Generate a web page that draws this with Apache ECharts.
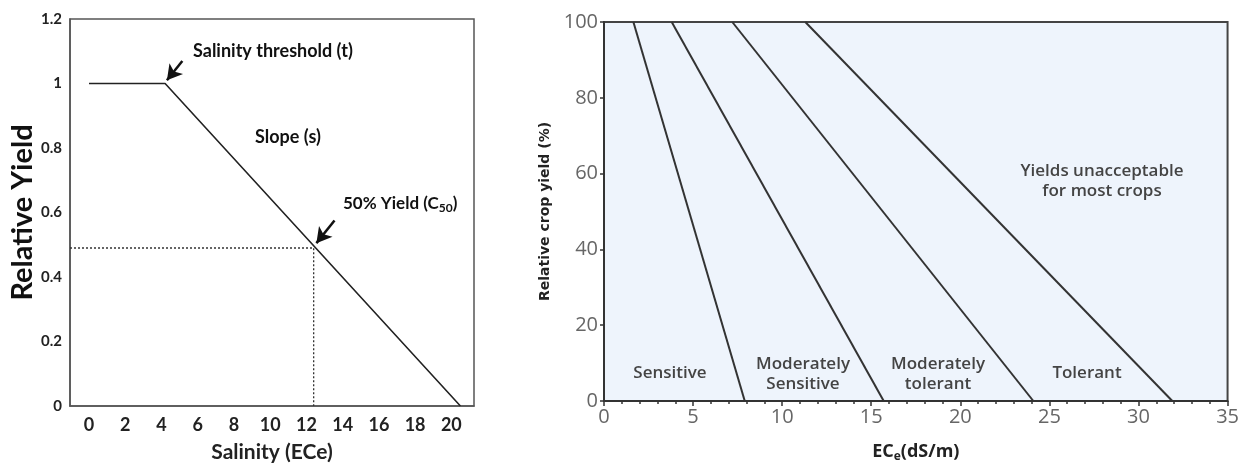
<!DOCTYPE html>
<html lang="en">
	<head>
		<meta charset="UTF-8" />
		<title>Salinity and crop yield</title>
		<script src="https://cdn.jsdelivr.net/npm/echarts@6.0.0/dist/echarts.min.js"></script>
		<style>
			html, body { margin: 0; padding: 0; background: #fff; }
			#chart { width: 1242px; height: 468px; }
		</style>
	</head>
	<body>
		<div id="chart"></div>
		<script>
			// left panel: threshold model
			const salinityTicks = [0, 2, 4, 6, 8, 10, 12, 14, 16, 18, 20];
			const yieldCurve = [[0, 1], [4.2, 1], [20.5, 0]];
			const threshold = [4.2, 1];
			const c50 = [12.4, 0.49];

			// right panel: tolerance classes (EC at 100% and at 0% yield)
			const classNames = ["Sensitive", "Moderately Sensitive", "Moderately tolerant", "Tolerant"];
			const ecAtFull = [1.65, 3.8, 7.2, 11.3];
			const ecAtZero = [7.9, 15.7, 24.1, 31.9];

			const chart = echarts.init(document.getElementById("chart"));

			const leftFont = "Lato";
			const rightFont = "Open Sans";

			const classSeries = classNames.map((name, i) => ({
				name: name,
				type: "line",
				xAxisIndex: 1,
				yAxisIndex: 1,
				symbol: "none",
				data: [[ecAtFull[i], 100], [ecAtZero[i], 0]],
				lineStyle: { color: "#333", width: 2 },
				z: 3
			}));

			const arrowStyle = { color: "#111", width: 2.5, type: "solid" };
			const regionFont = "600 17px 'Open Sans'";

			const option = {
				animation: false,
				grid: [
					{ left: 70, right: 768, top: 19, bottom: 62, show: true, borderColor: "#555", borderWidth: 1.5, backgroundColor: "#fff" },
					{ left: 604, right: 10, top: 22, bottom: 65, show: true, borderColor: "#444", borderWidth: 2, backgroundColor: "#eef4fc" }
				],
				xAxis: [
					{
						gridIndex: 0, type: "value", min: -1.05, max: 21.25,
						axisLine: { onZero: false, lineStyle: { color: "#555", width: 1.5 } },
						axisTick: { show: false },
						splitLine: { show: false },
						axisLabel: {
							customValues: salinityTicks, margin: 10,
							color: "#222", fontFamily: leftFont, fontWeight: "bold", fontSize: 18
						},
						name: "Salinity (ECe)", nameLocation: "middle", nameGap: 36,
						nameTextStyle: { color: "#222", fontFamily: leftFont, fontWeight: "bold", fontSize: 21 }
					},
					{
						gridIndex: 1, type: "value", min: 0, max: 35, interval: 5,
						axisLine: { onZero: false, lineStyle: { color: "#333", width: 2 } },
						axisTick: { length: 5, lineStyle: { color: "#333", width: 1.5 } },
						minorTick: { show: true, splitNumber: 5, length: 3, lineStyle: { color: "#333", width: 1.5 } },
						splitLine: { show: false },
						axisLabel: { color: "#666", fontFamily: rightFont, fontSize: 20, margin: 6 },
						name: "{a|EC}{s|e}{a|(dS/m)}", nameLocation: "middle", nameGap: 40,
						nameTextStyle: {
							rich: {
								a: { color: "#222", fontFamily: rightFont, fontWeight: "bold", fontSize: 18, lineHeight: 22 },
								s: { color: "#222", fontFamily: rightFont, fontWeight: "bold", fontSize: 12, lineHeight: 22, verticalAlign: "bottom", padding: [5, 0, 0, 0] }
							}
						}
					}
				],
				yAxis: [
					{
						gridIndex: 0, type: "value", min: 0, max: 1.2, interval: 0.2,
						axisLine: { show: true, onZero: false, lineStyle: { color: "#555", width: 1.5 } },
						axisTick: { show: false },
						splitLine: { show: false },
						axisLabel: { color: "#222", fontFamily: leftFont, fontWeight: "bold", fontSize: 15, margin: 8 },
						name: "Relative Yield", nameLocation: "middle", nameGap: 33,
						nameTextStyle: { color: "#111", fontFamily: leftFont, fontWeight: "bold", fontSize: 29 }
					},
					{
						gridIndex: 1, type: "value", min: 0, max: 100, interval: 20,
						axisLine: { show: true, onZero: false, lineStyle: { color: "#333", width: 2 } },
						axisTick: { show: true, length: 4, lineStyle: { color: "#333", width: 1.5 } },
						splitLine: { show: false },
						axisLabel: { color: "#666", fontFamily: rightFont, fontSize: 20, margin: 6 },
						name: "Relative crop yield (%)", nameLocation: "middle", nameGap: 19,
						nameTextStyle: { color: "#222", fontFamily: "DejaVu Sans", fontWeight: "bold", fontSize: 14 }
					}
				],
				series: [
					{
						name: "Relative yield",
						type: "line",
						xAxisIndex: 0,
						yAxisIndex: 0,
						symbol: "none",
						data: yieldCurve,
						lineStyle: { color: "#222", width: 1.6 },
						markLine: {
							silent: true,
							symbol: ["none", "arrow"],
							symbolSize: [13, 15],
							label: { show: false },
							lineStyle: arrowStyle,
							data: [
								[{ coord: [threshold[0] + 0.95, threshold[1] + 0.07] }, { coord: [threshold[0] + 0.1, threshold[1] + 0.01] }],
								[{ coord: [c50[0] + 1.15, c50[1] + 0.085] }, { coord: [c50[0] + 0.15, c50[1] + 0.015] }]
							]
						}
					},
					{
						name: "C50 guide",
						type: "line",
						xAxisIndex: 0,
						yAxisIndex: 0,
						symbol: "none",
						data: [[-1.05, c50[1]], [c50[0], c50[1]], [c50[0], 0]],
						lineStyle: { color: "#333", width: 1.3, type: [2, 2] }
					}
				].concat(classSeries),
				graphic: [
					{ type: "text", left: 193, top: 42, style: { text: "Salinity threshold (t)", fill: "#111", font: "bold 18px Lato" } },
					{ type: "text", left: 255, top: 128, style: { text: "Slope (s)", fill: "#111", font: "bold 18px Lato" } },
					{
						type: "text", left: 343, top: 195,
						style: {
							text: "{a|50% Yield (C}{s|50}{a|)}",
							rich: {
								a: { fill: "#111", font: "bold 17px Lato", lineHeight: 22 },
								s: { fill: "#111", font: "bold 12px Lato", lineHeight: 22, verticalAlign: "bottom", padding: [6, 0, 0, 0] }
							}
						}
					},
					{ type: "text", x: 670, y: 373, style: { text: "Sensitive", fill: "#444", font: regionFont, align: "center", verticalAlign: "middle" } },
					{ type: "text", x: 803, y: 374, style: { text: "Moderately\nSensitive", fill: "#444", font: regionFont, align: "center", verticalAlign: "middle", lineHeight: 20 } },
					{ type: "text", x: 938, y: 374, style: { text: "Moderately\ntolerant", fill: "#444", font: regionFont, align: "center", verticalAlign: "middle", lineHeight: 20 } },
					{ type: "text", x: 1087, y: 373, style: { text: "Tolerant", fill: "#444", font: regionFont, align: "center", verticalAlign: "middle" } },
					{ type: "text", x: 1102, y: 181, style: { text: "Yields unacceptable\nfor most crops", fill: "#444", font: regionFont, align: "center", verticalAlign: "middle", lineHeight: 20 } }
				]
			};

			chart.setOption(option);
		</script>
	</body>
</html>
